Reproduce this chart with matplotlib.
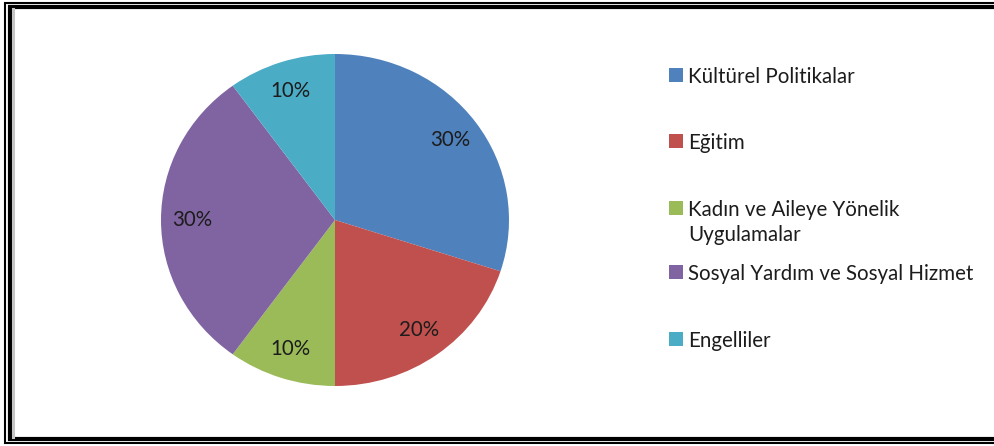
import matplotlib.pyplot as plt
from matplotlib.patches import Rectangle
from matplotlib.lines import Line2D

plt.rcParams['font.family'] = ['Lato', 'DejaVu Sans']

labels = ['Kültürel Politikalar', 'Eğitim', 'Kadın ve Aileye Yönelik\nUygulamalar',
          'Sosyal Yardım ve Sosyal Hizmet', 'Engelliler']
values = [30, 20, 10, 30, 10]
colors = ['#4F81BD', '#C0504D', '#9BBB59', '#8064A2', '#4BACC6']

W, H = 995, 446
txt_color = '#1c1c1c'

fig = plt.figure(figsize=(W / 100, H / 100), dpi=100)

def fx(x):
    return x / W

def fy(y):
    return 1 - y / H

# double frame (right side runs off the picture)
def frame(left, top, bottom, lw, color='black'):
    fig.add_artist(Line2D([fx(W + 20), fx(left), fx(left), fx(W + 20)],
                          [fy(top), fy(top), fy(bottom), fy(bottom)],
                          transform=fig.transFigure, lw=lw, color=color,
                          solid_joinstyle='miter'))

frame(5, 3, 443, 1.5)
frame(10, 7, 439, 3.0)
fig.add_artist(Line2D([fx(13.5), fx(13.5)], [fy(9), fy(437)],
                      transform=fig.transFigure, lw=2.2, color='#c4c4c4'))

# pie
ax = fig.add_axes([fx(161), fy(386), (509 - 161) / W, (386 - 54) / H])
wedges, texts, autotexts = ax.pie(values, colors=colors, startangle=90, counterclock=False,
                                  autopct='%.0f%%', pctdistance=0.82,
                                  textprops={'fontsize': 14.8, 'color': txt_color})
ax.set_aspect('auto')
ax.set_xlim(-1, 1)
ax.set_ylim(-1, 1)
ax.axis('off')

# legend, laid out like the original
row_y = [75, 141, 208, 272, 339]
for lab, col, y in zip(labels, colors, row_y):
    fig.add_artist(Rectangle((fx(669), fy(y + 7)), 14 / W, 14 / H, transform=fig.transFigure,
                             facecolor=col, edgecolor='none'))
    fig.text(fx(688), fy(y - 8), lab, fontsize=14.8, color=txt_color, va='top', ha='left',
             linespacing=1.3)

fig.savefig('out.png', dpi=100)
